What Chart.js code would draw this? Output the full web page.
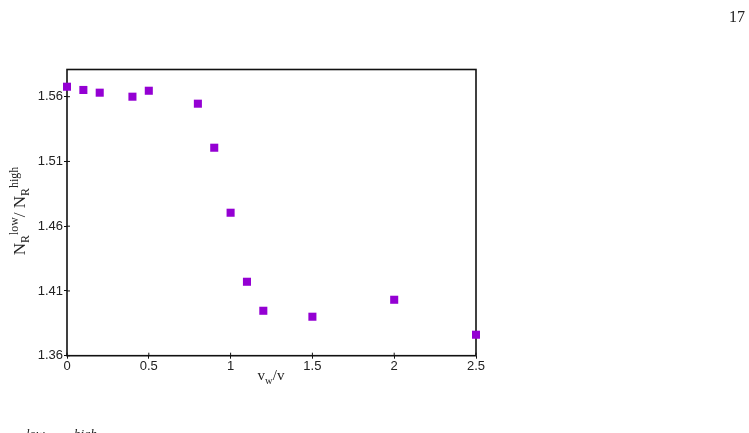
<!DOCTYPE html>
<html>
<head>
<meta charset="utf-8">
<script src="https://cdn.jsdelivr.net/npm/chart.js@4"></script>
<style>
    body { margin: 0; background: #fff; }
    #wrap { position: relative; width: 749px; height: 433px; overflow: hidden; }
    .serif { position: absolute; font-family: "Liberation Serif", "DejaVu Serif", serif; color: #222; white-space: nowrap; }
    .serif sub, .serif sup { font-size: 70%; }
</style>
</head>
<body>
<div id="wrap">
    <canvas id="ratioChart" width="749" height="433"></canvas>
    <div class="serif" style="right: 4px; top: 8px; font-size: 16px;">17</div>
    <div class="serif" style="left: 271px; top: 376px; font-size: 15px; transform: translate(-50%, -50%);">v<sub>w</sub>/v</div>
    <div class="serif" style="left: 20px; top: 211px; font-size: 17px; transform: translate(-50%, -50%) rotate(-90deg);">N<sub>R</sub><sup>low</sup>/ N<sub>R</sub><sup>high</sup></div>
    <div class="serif" style="left: 26px; top: 426px; font-size: 13px; font-style: italic;">low</div>
    <div class="serif" style="left: 74px; top: 426px; font-size: 13px; font-style: italic;">high</div>
</div>

<script>

// ------------------------
// Data
// ------------------------

const speedRatio = [0, 0.1, 0.2, 0.4, 0.5, 0.8, 0.9, 1.0, 1.1, 1.2, 1.5, 2.0, 2.5];
const countRatio = [1.5677, 1.5652, 1.5631, 1.5600, 1.5646, 1.5546, 1.5206, 1.4704, 1.4171, 1.3947, 1.3901, 1.4032, 1.3762];

const xTicks = [0, 0.5, 1, 1.5, 2, 2.5];
const yTicks = [1.36, 1.41, 1.46, 1.51, 1.56];

// ------------------------
// Frame round the plot, with inner tick marks
// ------------------------

const framePlugin = {
    id: "frame",
    beforeDatasetsDraw(chart) {
        const a = chart.chartArea;
        const ctx = chart.ctx;
        ctx.save();
        ctx.strokeStyle = "#111";
        ctx.lineWidth = 1.6;
        ctx.strokeRect(a.left, a.top, a.right - a.left, a.bottom - a.top);

        ctx.lineWidth = 1;
        ctx.beginPath();
        chart.scales.y.ticks.forEach(t => {
            const py = chart.scales.y.getPixelForValue(t.value);
            ctx.moveTo(a.left, py);
            ctx.lineTo(a.left + 3, py);
        });
        chart.scales.x.ticks.forEach(t => {
            const px = chart.scales.x.getPixelForValue(t.value);
            ctx.moveTo(px, a.bottom);
            ctx.lineTo(px, a.bottom - 3);
        });
        ctx.stroke();
        ctx.restore();
    }
};

new Chart(document.getElementById("ratioChart"), {

    type: "scatter",

    data: {
        datasets: [{
            data: speedRatio.map((x, i) => ({ x: x, y: countRatio[i] })),
            backgroundColor: "#9400d3",
            borderColor: "#9400d3",
            borderWidth: 0,
            pointStyle: "rect",
            pointRadius: 5.7,
            pointHoverRadius: 5.7,
            clip: false
        }]
    },

    options: {
        responsive: false,
        animation: false,
        layout: { padding: { top: 69.5, right: 273, left: 0, bottom: 0 } },
        plugins: {
            legend: { display: false },
            tooltip: { enabled: false }
        },
        scales: {
            x: {
                type: "linear",
                min: 0,
                max: 2.5,
                afterBuildTicks: s => { s.ticks = xTicks.map(v => ({ value: v })); },
                afterFit: s => { s.height = 77.3; },
                border: { display: false },
                grid: { drawOnChartArea: false, tickLength: 3, color: "#111" },
                ticks: {
                    padding: 0,
                    maxRotation: 0,
                    color: "#222",
                    font: { family: "Liberation Sans", size: 13 },
                    callback: v => String(v)
                }
            },
            y: {
                min: 1.36,
                max: 1.581,
                afterBuildTicks: s => { s.ticks = yTicks.map(v => ({ value: v })); },
                afterFit: s => { s.width = 67; },
                border: { display: false },
                grid: { drawOnChartArea: false, tickLength: 3, color: "#111" },
                ticks: {
                    padding: 1,
                    color: "#222",
                    font: { family: "Liberation Sans", size: 13 },
                    callback: v => v.toFixed(2)
                }
            }
        }
    },

    plugins: [framePlugin]

});

</script>
</body>
</html>
